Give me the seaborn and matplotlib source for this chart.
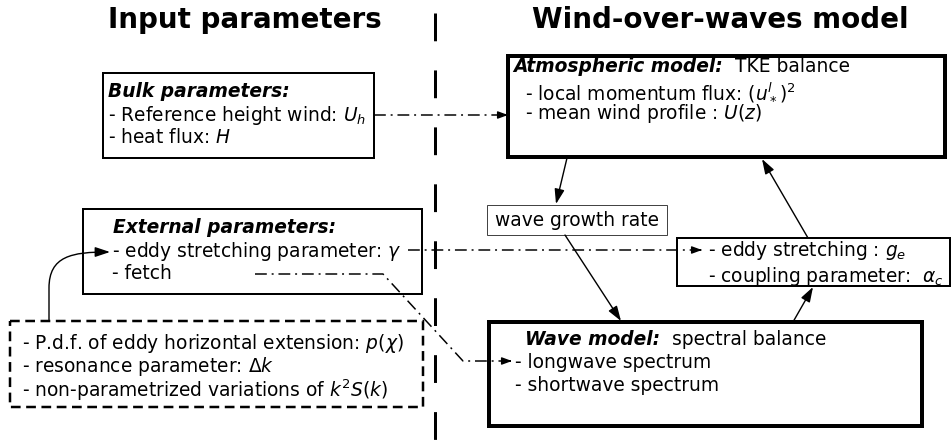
import matplotlib
matplotlib.use("Agg")
import matplotlib.pyplot as plt
from matplotlib.patches import Rectangle, FancyArrowPatch
from matplotlib.path import Path
import seaborn as sns

# labels of the diagram
titles = ["Input parameters", "Wind-over-waves model"]
bulk_head = "Bulk parameters:"
bulk_lines = ["- Reference height wind: $U_h$", "- heat flux: $H$"]
ext_head = "External parameters:"
ext_lines = ["- eddy stretching parameter: $\\gamma$", "- fetch"]
hidden_lines = ["- P.d.f. of eddy horizontal extension: $p(\\chi)$",
                "- resonance parameter: $\\Delta k$",
                "- non-parametrized variations of $k^2S(k)$"]
atm_head = ["Atmospheric model:", "TKE balance"]
atm_lines = ["- local momentum flux: $(u_*^l)^2$", "- mean wind profile : $U(z)$"]
growth_label = "wave growth rate"
coupling_lines = ["- eddy stretching : $g_e$", "- coupling parameter:  $\\alpha_c$"]
wave_head = ["Wave model:", "spectral balance"]
wave_lines = ["- longwave spectrum", "- shortwave spectrum"]

sns.set_theme(style="white")
plt.rcParams['font.family'] = ['DejaVu Sans']
plt.rcParams['mathtext.fontset'] = 'dejavusans'
plt.rcParams['lines.scale_dashes'] = False
plt.rcParams['text.color'] = 'black'

fig = plt.figure(figsize=(9.52, 4.41), dpi=100)
ax = fig.add_axes([0, 0, 1, 1])
ax.set_xlim(0, 952)
ax.set_ylim(441, 0)
ax.axis('off')

PX = 0.72  # points per pixel
FS = 13.4
dashdot = (0, (8.5, 3.5, 1.4, 3.5))


def box(x0, y0, x1, y1, lw, ls='-', ec='black'):
    ax.add_patch(Rectangle((x0, y0), x1 - x0, y1 - y0, fill=False, lw=lw * PX,
                           ls=ls, ec=ec, joinstyle='miter'))


def txt(x, y, s, **kw):
    kw.setdefault('fontsize', FS)
    ax.text(x, y, s, ha='left', va='baseline', color='black', **kw)


def arrow(p0, p1, small=False):
    hl, hw = (0.6, 0.22) if small else (0.9, 0.3)
    ax.add_patch(FancyArrowPatch(p0, p1, arrowstyle=f'-|>,head_length={hl},head_width={hw}',
                                 mutation_scale=10, lw=1.4 * PX, color='black',
                                 shrinkA=0, shrinkB=0))


def dd_arrow(xs, ys):
    ax.plot(xs, ys, color='black', lw=1.5 * PX, ls=dashdot)
    arrow((xs[-1] - 3, ys[-1]), (xs[-1], ys[-1]), small=True)


# titles
ax.text(245, 28, titles[0], fontsize=20, fontweight='bold', ha='center', va='baseline')
ax.text(720, 28, titles[1], fontsize=20, fontweight='bold', ha='center', va='baseline')

# divider
ax.plot([435, 435], [13, 441], color='black', lw=3 * PX, ls=(0, (20, 21)))

# boxes
box(103, 73, 374, 158, 2)
box(508, 56, 945, 157, 4)
box(487, 205, 667, 235, 1, ec='#444444')
box(677, 238, 950, 286, 2)
box(83, 209, 422, 294, 2)
box(10, 321, 423, 407, 2.5, ls=(0, (7, 4)))
box(489, 322, 922, 426, 4)

# texts
txt(108, 97, bulk_head, fontweight='bold', fontstyle='italic')
txt(108, 121, bulk_lines[0])
txt(108, 143, bulk_lines[1])

txt(513, 72, atm_head[0], fontweight='bold', fontstyle='italic')
txt(735, 72, atm_head[1])
txt(525, 97, atm_lines[0])
txt(525, 119, atm_lines[1])

txt(113, 233, ext_head, fontweight='bold', fontstyle='italic')
txt(112, 257, ext_lines[0])
txt(112, 279, ext_lines[1])

txt(22, 349, hidden_lines[0])
txt(22, 372, hidden_lines[1])
txt(22, 397, hidden_lines[2])

ax.text(577, 220, growth_label, fontsize=FS, ha='center', va='center', color='black')

txt(708, 256, coupling_lines[0])
txt(708, 282, coupling_lines[1])

txt(525, 345, wave_head[0], fontweight='bold', fontstyle='italic')
txt(672, 345, wave_head[1])
txt(515, 368, wave_lines[0])
txt(515, 391, wave_lines[1])

# solid arrows
arrow((567, 158), (556, 204))
arrow((565, 235), (621, 321))
arrow((793, 322), (813, 287))
arrow((808, 238), (762, 159))

# curved arrow from hidden parameters
curve = Path([(49, 321), (49, 288), (49, 256), (72, 252), (110, 252)],
             [Path.MOVETO, Path.LINETO, Path.CURVE4, Path.CURVE4, Path.CURVE4])
ax.add_patch(FancyArrowPatch(path=curve, arrowstyle='-|>,head_length=0.9,head_width=0.3',
                             mutation_scale=10, lw=1.4 * PX, color='black',
                             transform=ax.transData))

# dash-dot arrows
dd_arrow([374, 508], [115, 115])
dd_arrow([408, 702], [250, 250])
dd_arrow([255, 383, 463, 512], [274, 274, 361, 361])

fig.savefig("out.png", dpi=100)
